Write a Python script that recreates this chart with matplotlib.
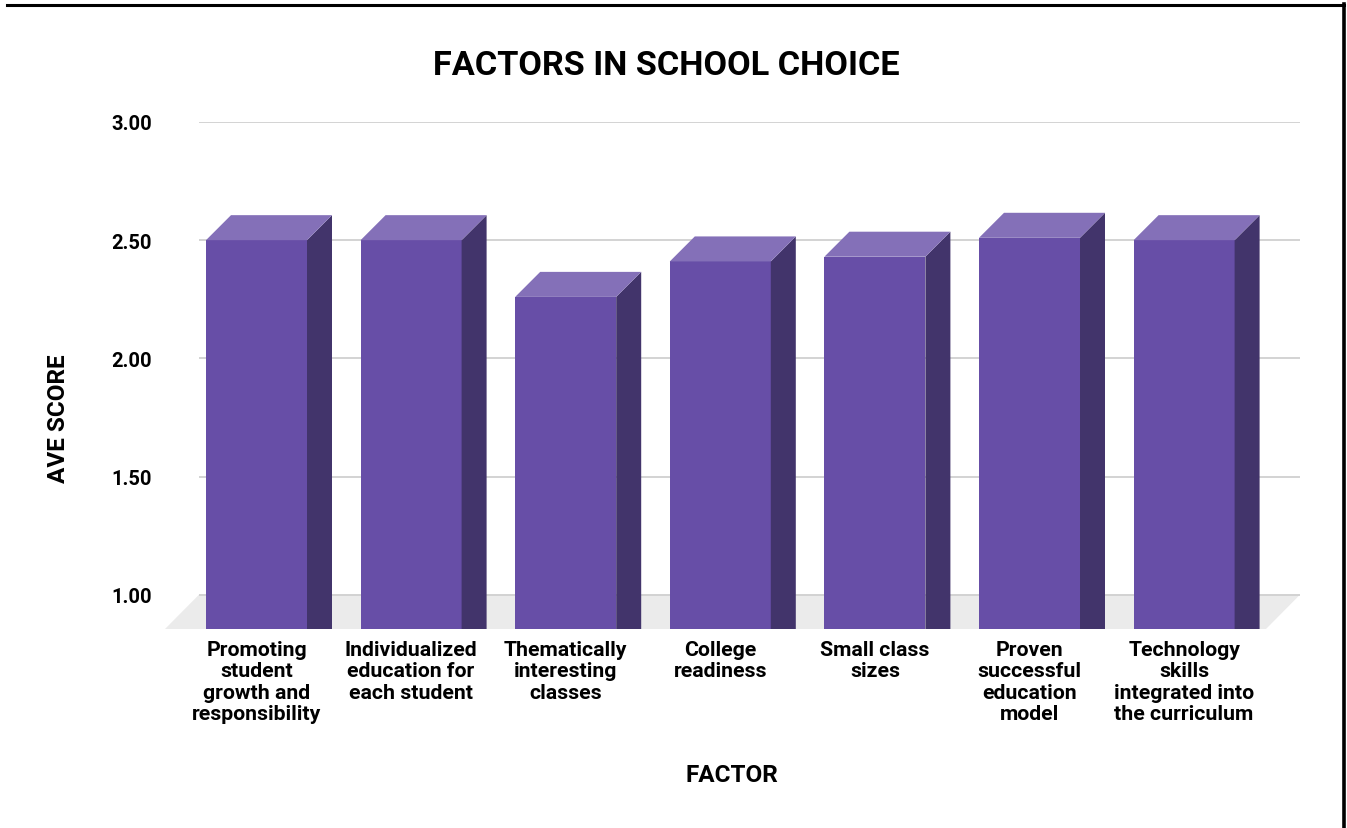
# Factors in school choice - 3D style column chart
import matplotlib
matplotlib.use("Agg")
import matplotlib.pyplot as plt
from matplotlib.patches import Polygon
from matplotlib.lines import Line2D

plt.rcParams["font.family"] = ["Roboto", "DejaVu Sans"]

# -------------------------------
# Data
# -------------------------------
factors = [
    "Promoting\nstudent\ngrowth and\nresponsibility",
    "Individualized\neducation for\neach student",
    "Thematically\ninteresting\nclasses",
    "College\nreadiness",
    "Small class\nsizes",
    "Proven\nsuccessful\neducation\nmodel",
    "Technology\nskills\nintegrated into\nthe curriculum",
]
scores = [2.50, 2.50, 2.26, 2.41, 2.43, 2.51, 2.50]
y_ticks = [1.00, 1.50, 2.00, 2.50, 3.00]
y_tick_labels = ["1.00", "1.50", "2.00", "2.50", "3.00"]

# -------------------------------
# Layout (pixels of a 1347x829 canvas)
# -------------------------------
W, H = 1347, 829
px_x = 154.6          # pixels per category step
px_y = 236.2          # pixels per score unit
y_floor = 1.0 - 34.3 / px_y
x_left = -(256.5 - 199) / px_x
x_right = (1300 - 256.5) / px_x
bar_w = 101 / px_x
dx, dy = 25 / px_x, 25 / px_y          # bar depth
fdx = 34 / px_x                          # floor depth

front = "#674ea7"
top = "#8470b8"
side = "#42346b"

fig = plt.figure(figsize=(W / 100, H / 100), dpi=100)
ax = fig.add_axes([199 / W, 1 - 630 / H, (1300 - 199) / W, (630 - 123) / H])
ax.set_xlim(x_left, x_right)
ax.set_ylim(y_floor, 3.0)

# gridlines
for t in y_ticks:
    ax.axhline(t, color="#d0d0d0", lw=1.3, zorder=1)

# floor
floor = Polygon([(x_left - fdx, y_floor), (x_right - fdx, y_floor),
                 (x_right, 1.0), (x_left, 1.0)],
                closed=True, facecolor="#ebebeb", edgecolor="none",
                zorder=0.5, clip_on=False)
ax.add_patch(floor)

# bars
for i, v in enumerate(scores):
    x0 = i - bar_w / 2
    x1 = i + bar_w / 2
    ax.add_patch(Polygon([(x0, y_floor), (x1, y_floor), (x1, v), (x0, v)],
                         closed=True, facecolor=front, edgecolor="none", zorder=3))
    ax.add_patch(Polygon([(x1, y_floor), (x1 + dx, y_floor), (x1 + dx, v + dy), (x1, v)],
                         closed=True, facecolor=side, edgecolor="none", zorder=3))
    ax.add_patch(Polygon([(x0, v), (x1, v), (x1 + dx, v + dy), (x0 + dx, v + dy)],
                         closed=True, facecolor=top, edgecolor="none", zorder=3,
                         clip_on=False))

ax.set_yticks(y_ticks)
ax.set_yticklabels(y_tick_labels, fontsize=14.5, fontweight="bold")
ax.set_xticks(range(len(factors)))
ax.set_xticklabels(factors, fontsize=15.3, fontweight="bold", linespacing=1.15)
ax.tick_params(axis="y", length=0, pad=34)
ax.tick_params(axis="x", length=0, pad=8)
for s in ax.spines.values():
    s.set_visible(False)

# titles
fig.text(666 / W, 1 - 66 / H, "FACTORS IN SCHOOL CHOICE", ha="center", va="center",
         fontsize=24.7, fontweight="bold")
fig.text(732 / W, 1 - 776 / H, "FACTOR", ha="center", va="center",
         fontsize=17.5, fontweight="bold")
fig.text(59 / W, 1 - 419 / H, "AVE SCORE", ha="center", va="center",
         rotation=90, fontsize=17.5, fontweight="bold")

# frame lines at top and right
fig.add_artist(Line2D([7 / W, 1344 / W], [1 - 6 / H, 1 - 6 / H],
                      color="black", lw=2.2, transform=fig.transFigure))
fig.add_artist(Line2D([1344 / W, 1344 / W], [1 - 5 / H, 0],
                      color="black", lw=2.6, transform=fig.transFigure))

fig.savefig("out.png", dpi=100)
